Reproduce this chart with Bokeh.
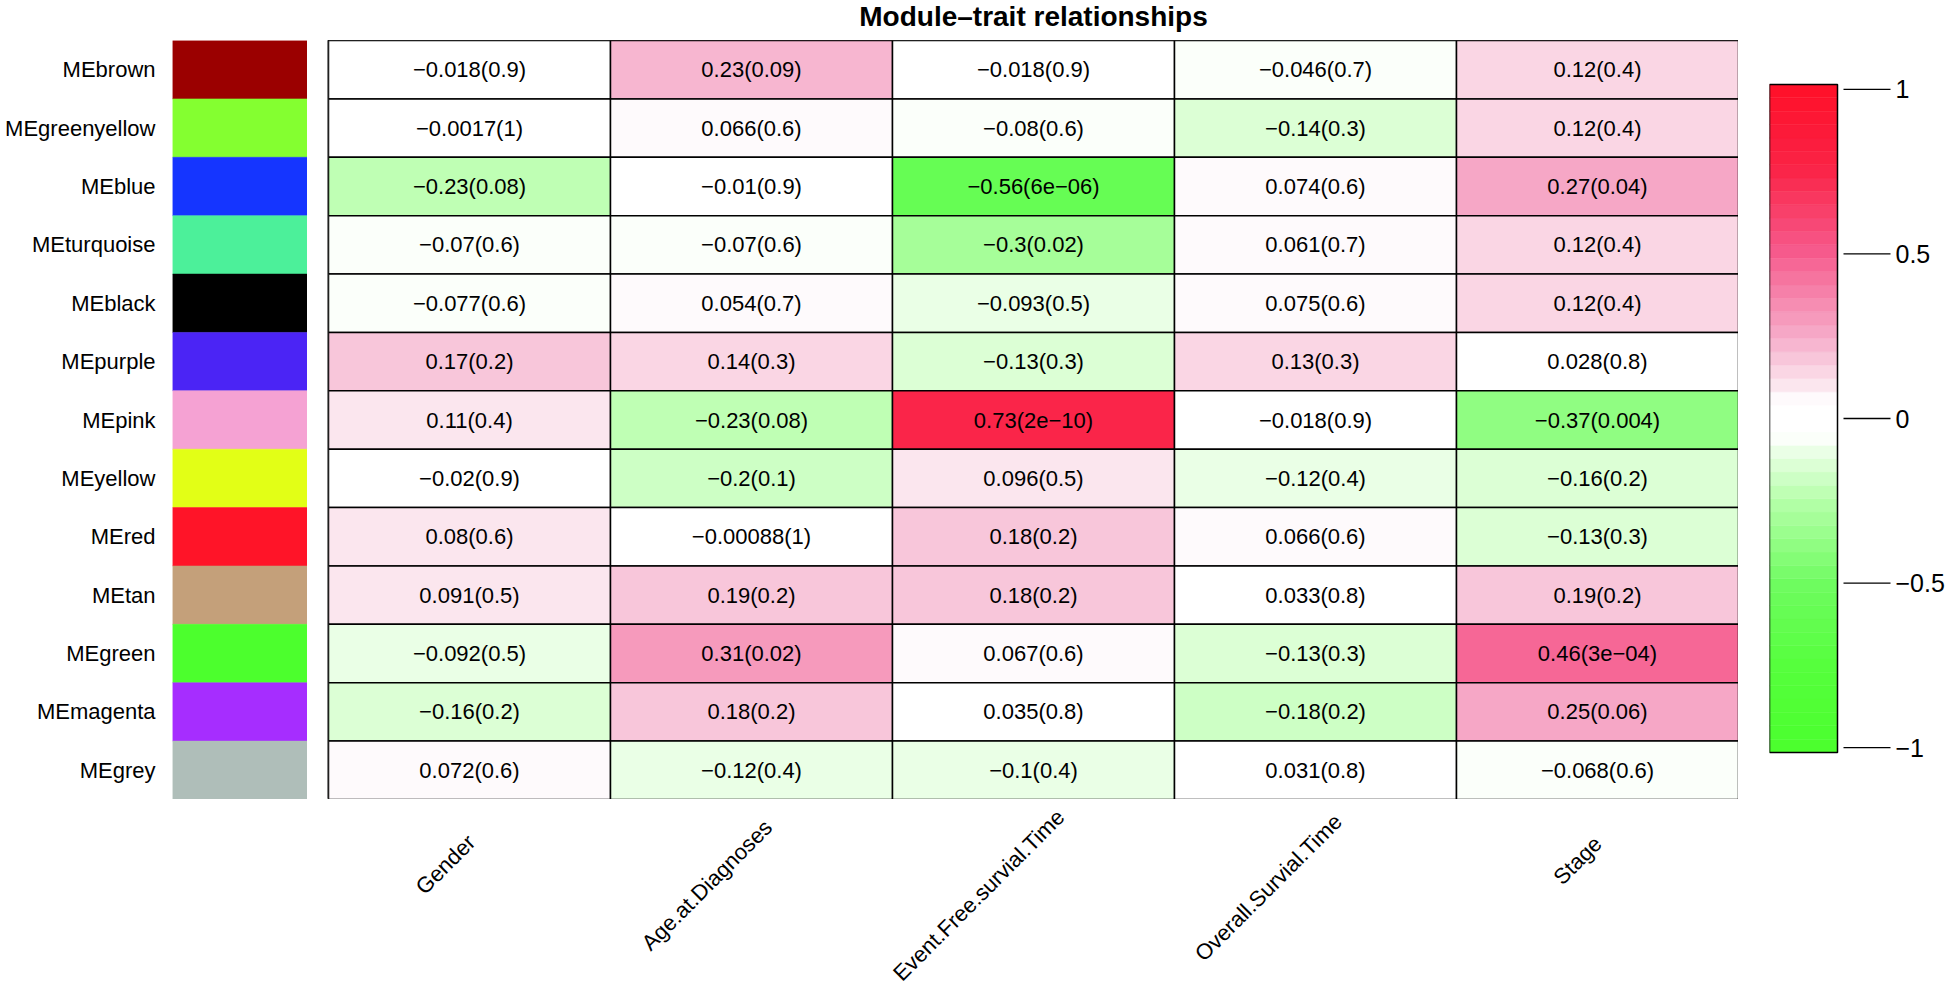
import math
import numpy as np
from bokeh.plotting import figure
from bokeh.models import ColumnDataSource, FactorRange, Range1d, LinearColorMapper, Spacer
from bokeh.layouts import row, column
from bokeh.transform import transform
from bokeh.core.properties import value
from bokeh.embed import file_html
from bokeh.resources import INLINE

# ---------------- data ----------------
modules = ["MEbrown", "MEgreenyellow", "MEblue", "MEturquoise", "MEblack", "MEpurple",
           "MEpink", "MEyellow", "MEred", "MEtan", "MEgreen", "MEmagenta", "MEgrey"]
module_colors = ["#9b0000", "#84ff30", "#1535ff", "#4cf09a", "#000000", "#4b24f5",
                 "#f5a2d3", "#e2ff16", "#ff1428", "#c4a07a", "#4cff2d", "#a62dff", "#afbeb9"]
traits = ["Gender", "Age.at.Diagnoses", "Event.Free.survial.Time", "Overall.Survial.Time", "Stage"]

cor_gender = [-0.018, -0.0017, -0.23, -0.07, -0.077, 0.17, 0.11, -0.02, 0.08, 0.091, -0.092, -0.16, 0.072]
p_gender = ["0.9", "1", "0.08", "0.6", "0.6", "0.2", "0.4", "0.9", "0.6", "0.5", "0.5", "0.2", "0.6"]
cor_age = [0.23, 0.066, -0.01, -0.07, 0.054, 0.14, -0.23, -0.2, -0.00088, 0.19, 0.31, 0.18, -0.12]
p_age = ["0.09", "0.6", "0.9", "0.6", "0.7", "0.3", "0.08", "0.1", "1", "0.2", "0.02", "0.2", "0.4"]
cor_efs = [-0.018, -0.08, -0.56, -0.3, -0.093, -0.13, 0.73, 0.096, 0.18, 0.18, 0.067, 0.035, -0.1]
p_efs = ["0.9", "0.6", "6e-06", "0.02", "0.5", "0.3", "2e-10", "0.5", "0.2", "0.2", "0.6", "0.8", "0.4"]
cor_os = [-0.046, -0.14, 0.074, 0.061, 0.075, 0.13, -0.018, -0.12, 0.066, 0.033, -0.13, -0.18, 0.031]
p_os = ["0.7", "0.3", "0.6", "0.7", "0.6", "0.3", "0.9", "0.4", "0.6", "0.8", "0.3", "0.2", "0.8"]
cor_stage = [0.12, 0.12, 0.27, 0.12, 0.12, 0.028, -0.37, -0.16, -0.13, 0.19, 0.46, 0.25, -0.068]
p_stage = ["0.4", "0.4", "0.04", "0.4", "0.4", "0.8", "0.004", "0.2", "0.3", "0.2", "3e-04", "0.06", "0.6"]

cbar_ticks = [-1, -0.5, 0, 0.5, 1]
cbar_tick_labels = ["\u22121", "\u22120.5", "0", "0.5", "1"]

title_text = "Module\u2013trait relationships"

# ---------------- styling ----------------
FONT = "Liberation Sans"
MINUS = "\u2212"

# colour ramp anchors (green - white - red), value -> rgb
ramp = [(-1.0, (75, 255, 45)), (-0.75, (85, 255, 60)), (-0.5, (110, 252, 95)),
        (-0.25, (180, 255, 168)), (-0.1, (234, 255, 230)), (-0.05, (255, 255, 255)),
        (0.05, (255, 255, 255)), (0.1, (251, 230, 238)), (0.25, (246, 170, 200)),
        (0.5, (246, 90, 140)), (0.75, (250, 35, 70)), (1.0, (255, 15, 40))]
N_COL = 50


def ramp_color(v):
    for (a, ca), (b, cb) in zip(ramp[:-1], ramp[1:]):
        if a <= v <= b:
            f = (v - a) / (b - a)
            c = [round(ca[k] + f * (cb[k] - ca[k])) for k in range(3)]
            return "#%02x%02x%02x" % tuple(c)
    return "#ffffff"


palette = [ramp_color(-1 + (i + 0.5) * 2.0 / N_COL) for i in range(N_COL)]
mapper = LinearColorMapper(palette=palette, low=-1, high=1)

# ---------------- table ----------------
cors = [cor_gender, cor_age, cor_efs, cor_os, cor_stage]
pvals = [p_gender, p_age, p_efs, p_os, p_stage]
xs, ys, rs, labels = [], [], [], []
for t, cl, pl in zip(traits, cors, pvals):
    for m, r, pv in zip(modules, cl, pl):
        xs.append(t)
        ys.append(m)
        rs.append(r)
        labels.append((repr(r) + "(" + pv + ")").replace("-", MINUS))
src = ColumnDataSource(dict(trait=xs, module=ys, r=rs, label=labels))

y_range = FactorRange(*list(reversed(modules)))
x_range = FactorRange(*traits)

TITLE_H = 40
ROW_H = 759          # heatmap frame height (page y 40 -> 799)
LAB_H = 189
W1, W2, W3 = 307, 1431, 207
HM_LEFT = W1 + 21    # page x of the heatmap frame
common = dict(height=ROW_H, min_border_top=0, min_border_bottom=0, min_border_right=0,
              toolbar_location=None, output_backend="svg")


def clean(p):
    p.grid.grid_line_color = None
    p.background_fill_color = "white"
    p.border_fill_color = "white"


# ---------------- title ----------------
ftitle = figure(width=1410, height=TITLE_H, x_range=Range1d(0, 1), y_range=Range1d(0, 1),
                min_border=0, x_axis_location=None, y_axis_location=None,
                toolbar_location=None, output_backend="svg", outline_line_color=None)
clean(ftitle)
ftitle.text(x=[0.5], y=[0], text=[title_text], text_align="center",
            text_baseline="alphabetic", y_offset=-24, text_font=value(FONT),
            text_font_size="28px", text_font_style="bold", text_color="black")

# ---------------- module colour column ----------------
f1 = figure(width=W1, min_border_left=172, x_range=Range1d(0, 1), y_range=y_range,
            x_axis_location=None, y_axis_location="left", outline_line_color=None, **common)
clean(f1)
f1.hbar(y=modules, left=0, right=1, height=1, fill_color=module_colors,
        line_color=module_colors, line_width=0.5)
f1.yaxis.major_tick_line_color = None
f1.yaxis.minor_tick_line_color = None
f1.yaxis.major_tick_out = 0
f1.yaxis.major_tick_in = 0
f1.yaxis.minor_tick_out = 0
f1.yaxis.axis_line_color = None
f1.yaxis.major_label_text_font = FONT
f1.yaxis.major_label_text_font_size = "22px"
f1.yaxis.major_label_text_color = "black"
f1.yaxis.major_label_standoff = 17

# ---------------- heatmap ----------------
f2 = figure(width=W2, min_border_left=21, x_range=x_range, y_range=y_range,
            x_axis_location=None, y_axis_location=None,
            outline_line_color="black", outline_line_width=2, **common)
clean(f2)
f2.rect(x="trait", y="module", width=1, height=1, source=src,
        fill_color=transform("r", mapper), line_color="black", line_width=1.5)
f2.text(x="trait", y="module", text="label", source=src, text_align="center",
        text_baseline="middle", text_font=value(FONT), text_font_size="22px",
        text_color="black")

# ---------------- colour bar ----------------
BAR_LO, BAR_HI = -1.015, 1.015
PX_PER_UNIT = 668 / (BAR_HI - BAR_LO)
CB_TOP_GAP, CB_BOTTOM_GAP = 44, 47   # bar sits between page y 84 and 752
f3 = figure(width=W3, min_border_left=31,
            x_range=Range1d(0, W3 - 31),
            y_range=Range1d(BAR_LO - CB_BOTTOM_GAP / PX_PER_UNIT, BAR_HI + CB_TOP_GAP / PX_PER_UNIT),
            x_axis_location=None, y_axis_location=None, outline_line_color=None, **common)
clean(f3)
edges = np.linspace(BAR_LO, BAR_HI, len(palette) + 1)
f3.quad(left=0, right=68, bottom=edges[:-1], top=edges[1:], fill_color=palette,
        line_color=palette, line_width=0.5)
f3.quad(left=0, right=68, bottom=BAR_LO, top=BAR_HI, fill_color=None,
        line_color="black", line_width=1.5)
f3.segment(x0=74, x1=121, y0=cbar_ticks, y1=cbar_ticks, line_color="black", line_width=1.3)
f3.text(x=126, y=cbar_ticks, text=cbar_tick_labels, text_align="left", text_baseline="middle",
        text_font=value(FONT), text_font_size="25px", text_color="black")

# ---------------- x labels ----------------
flab = figure(width=1410, height=LAB_H, min_border=0, x_range=x_range, y_range=Range1d(0, 1),
              x_axis_location=None, y_axis_location=None, toolbar_location=None,
              output_backend="svg", outline_line_color=None)
clean(flab)
ang = math.pi / 4
shift = [0.2 * 10.5 * len(t) * math.cos(ang) for t in traits]
lab_src = ColumnDataSource(dict(trait=traits,
                                xo=[-7 + s for s in shift],
                                yo=[48 - s for s in shift]))
flab.text(x="trait", y=1, text="trait", source=lab_src, angle=ang, x_offset="xo", y_offset="yo",
          text_align="right", text_baseline="middle", text_font=value(FONT),
          text_font_size="22px", text_color="black")

layout = column(row(Spacer(width=HM_LEFT, height=TITLE_H), ftitle),
                row(f1, f2, f3),
                row(Spacer(width=HM_LEFT, height=LAB_H), flab))

open("out.html", "w").write(file_html(layout, INLINE))
